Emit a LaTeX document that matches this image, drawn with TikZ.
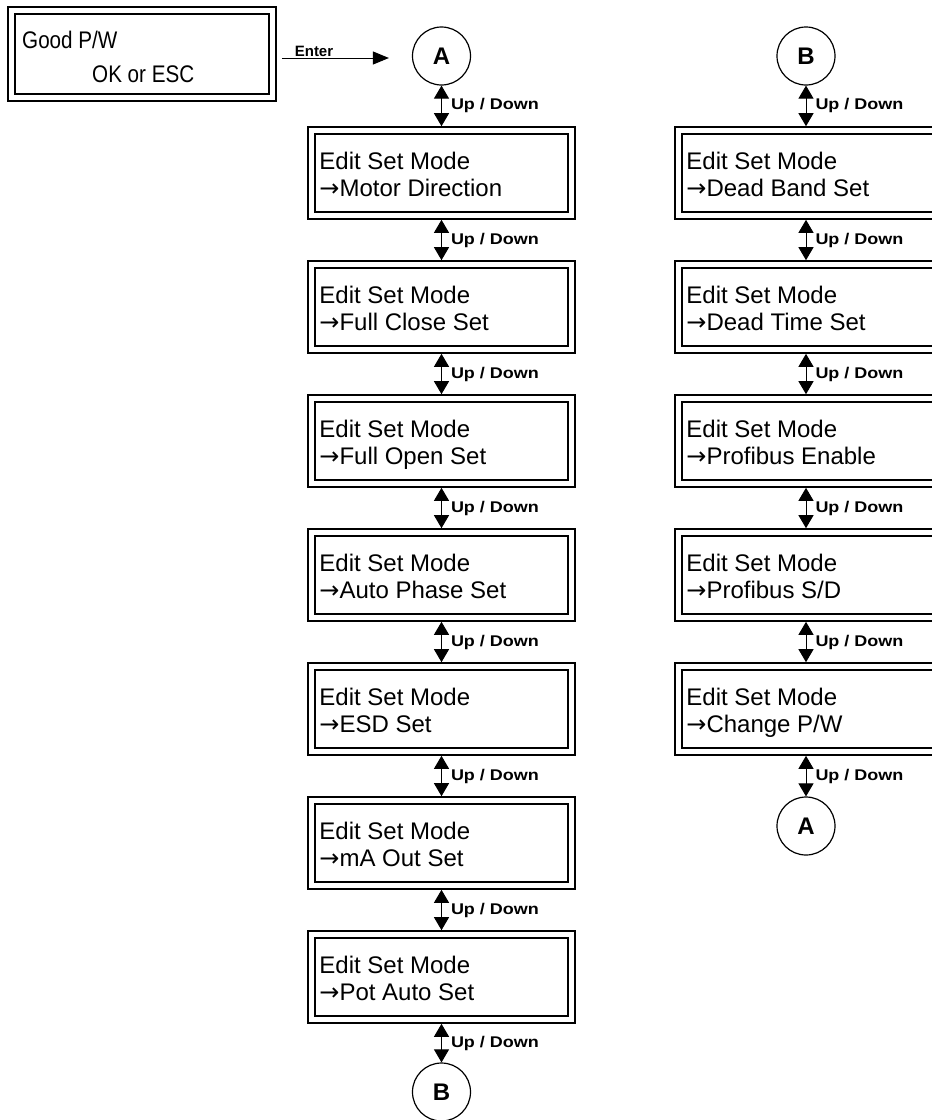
\documentclass[tikz,border=0pt]{standalone}
\usepackage{fontspec}
\setmainfont{Liberation Sans}
\newfontfamily\narrowfont[FakeStretch=0.86]{Liberation Sans}
\newfontfamily\widefont[FakeStretch=1.16]{Liberation Sans}
\newfontfamily\arrowfont{DejaVu Sans}
\newcommand{\pointer}{{\arrowfont →}}
\usetikzlibrary{arrows.meta,calc}

\tikzset{
  lcd/.style={draw, double, line width=1.6pt, double distance=5.4pt,
    minimum width=260pt, minimum height=85pt, inner sep=0pt, outer sep=4.3pt},
  lcdtext/.style={anchor=north west, inner sep=0pt, align=left,
    font=\fontsize{24}{27}\selectfont},
  conn/.style={draw, circle, line width=1.2pt, minimum size=58pt, inner sep=0pt,
    font=\bfseries\fontsize{24}{24}\selectfont},
  updown/.style={line width=1pt,
    {Triangle[length=13pt,width=15pt]}-{Triangle[length=13pt,width=15pt]}},
  udlabel/.style={right=9pt, inner sep=0pt, font=\widefont\bfseries\fontsize{15.5}{15.5}\selectfont},
}

\begin{document}
\begin{tikzpicture}[x=1pt, y=-1pt]
\useasboundingbox (0,0) rectangle (932,1120);
\clip (0,0) rectangle (932,1120);

% password prompt
\node[lcd, minimum width=261pt, minimum height=87pt] (g) at (142,54) {};
\node[anchor=base west, inner sep=0pt, font=\narrowfont\fontsize{24}{24}\selectfont] (gt1) at (22,48) {Good P/W};
\node[anchor=base west, inner sep=0pt, font=\narrowfont\fontsize{24}{24}\selectfont] (gt2) at (92,82) {OK or ESC};

% connectors
\node[conn] (cA) at (441.5,56) {A};
\node[conn] (cB1) at (441.5,1092) {B};
\node[conn] (cB) at (806,56) {B};
\node[conn] (cA2) at (806,826) {A};

\draw[line width=1pt, -{Triangle[length=16pt,width=13pt]}, shorten <=5pt, shorten >=23pt]
  ([yshift=-4pt]g.east) -- ([yshift=-4pt]g.east -| cA.west);
\node[inner sep=0pt, font=\bfseries\fontsize{15}{15}\selectfont] (enterlbl) at (314,51) {Enter};

% left column of menu screens
\node[lcd] (b1) at (441.5,173) {};
\node[lcd] (b2) at (441.5,307) {};
\node[lcd] (b3) at (441.5,441) {};
\node[lcd] (b4) at (441.5,575) {};
\node[lcd] (b5) at (441.5,709) {};
\node[lcd] (b6) at (441.5,843) {};
\node[lcd] (b7) at (441.5,977) {};

\node[lcdtext] (bt1) at ($(b1.north west)+(12,25)$) {\rule{0pt}{18pt}Edit Set Mode\\\pointer Motor Direction};
\node[lcdtext] (bt2) at ($(b2.north west)+(12,25)$) {\rule{0pt}{18pt}Edit Set Mode\\\pointer Full Close Set};
\node[lcdtext] (bt3) at ($(b3.north west)+(12,25)$) {\rule{0pt}{18pt}Edit Set Mode\\\pointer Full Open Set};
\node[lcdtext] (bt4) at ($(b4.north west)+(12,25)$) {\rule{0pt}{18pt}Edit Set Mode\\\pointer Auto Phase Set};
\node[lcdtext] (bt5) at ($(b5.north west)+(12,25)$) {\rule{0pt}{18pt}Edit Set Mode\\\pointer ESD Set};
\node[lcdtext] (bt6) at ($(b6.north west)+(12,25)$) {\rule{0pt}{18pt}Edit Set Mode\\\pointer mA Out Set};
\node[lcdtext] (bt7) at ($(b7.north west)+(12,25)$) {\rule{0pt}{18pt}Edit Set Mode\\\pointer Pot Auto Set};

\draw[updown] (cA.south) -- node[udlabel] (ul0) {Up / Down} (b1.north);
\draw[updown] (b1.south) -- node[udlabel] (ul1) {Up / Down} (b2.north);
\draw[updown] (b2.south) -- node[udlabel] (ul2) {Up / Down} (b3.north);
\draw[updown] (b3.south) -- node[udlabel] (ul3) {Up / Down} (b4.north);
\draw[updown] (b4.south) -- node[udlabel] (ul4) {Up / Down} (b5.north);
\draw[updown] (b5.south) -- node[udlabel] (ul5) {Up / Down} (b6.north);
\draw[updown] (b6.south) -- node[udlabel] (ul6) {Up / Down} (b7.north);
\draw[updown] (b7.south) -- node[udlabel] (ul7) {Up / Down} (cB1.north);

% right column of menu screens
\node[lcd] (r1) at (808.5,173) {};
\node[lcd] (r2) at (808.5,307) {};
\node[lcd] (r3) at (808.5,441) {};
\node[lcd] (r4) at (808.5,575) {};
\node[lcd] (r5) at (808.5,709) {};

\node[lcdtext] (rt1) at ($(r1.north west)+(12,25)$) {\rule{0pt}{18pt}Edit Set Mode\\\pointer Dead Band Set};
\node[lcdtext] (rt2) at ($(r2.north west)+(12,25)$) {\rule{0pt}{18pt}Edit Set Mode\\\pointer Dead Time Set};
\node[lcdtext] (rt3) at ($(r3.north west)+(12,25)$) {\rule{0pt}{18pt}Edit Set Mode\\\pointer Profibus Enable};
\node[lcdtext] (rt4) at ($(r4.north west)+(12,25)$) {\rule{0pt}{18pt}Edit Set Mode\\\pointer Profibus S/D};
\node[lcdtext] (rt5) at ($(r5.north west)+(12,25)$) {\rule{0pt}{18pt}Edit Set Mode\\\pointer Change P/W};

\draw[updown] (cB.south) -- node[udlabel] (ur0) {Up / Down} (cB.south |- r1.north);
\draw[updown] (r1.south -| cB.south) -- node[udlabel] (ur1) {Up / Down} (r2.north -| cB.south);
\draw[updown] (r2.south -| cB.south) -- node[udlabel] (ur2) {Up / Down} (r3.north -| cB.south);
\draw[updown] (r3.south -| cB.south) -- node[udlabel] (ur3) {Up / Down} (r4.north -| cB.south);
\draw[updown] (r4.south -| cB.south) -- node[udlabel] (ur4) {Up / Down} (r5.north -| cB.south);
\draw[updown] (r5.south -| cA2.north) -- node[udlabel] (ur5) {Up / Down} (cA2.north);
\end{tikzpicture}
\end{document}
